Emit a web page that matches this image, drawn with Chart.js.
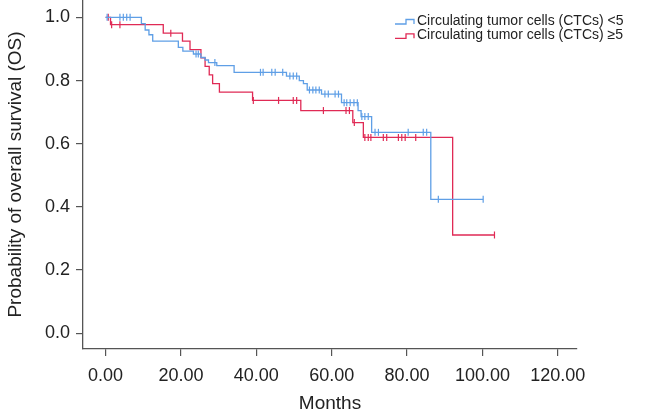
<!DOCTYPE html>
<html>
<head>
<meta charset="utf-8">
<script src="https://cdn.jsdelivr.net/npm/chart.js@4.4.1/dist/chart.umd.min.js"></script>
<style>
  html, body { margin: 0; padding: 0; background: #fff; }
  #wrap { width: 668px; height: 416px; }
</style>
</head>
<body>
<div id="wrap"><canvas id="km" width="668" height="416"></canvas></div>
<script>
// Kaplan-Meier steps: months and survival after each drop
const lowTimes = [0, 9.5, 10.5, 11.5, 12.5, 19.3, 20.5, 23.3, 25.3, 26.4, 27.3, 29.5, 34.1, 48.0, 51.4, 52.5, 53.5, 57.3, 62.6, 67.0, 67.8, 70.6, 86.3, 100.2];
const lowSurv  = [1.0, 0.98, 0.96, 0.945, 0.925, 0.905, 0.893, 0.884, 0.873, 0.865, 0.857, 0.847, 0.826, 0.814, 0.80, 0.79, 0.77, 0.757, 0.73, 0.705, 0.686, 0.636, 0.424, 0.424];
const lowCensor = [0.4, 3.8, 4.7, 5.6, 6.5, 24.0, 24.6, 29.0, 41.1, 41.8, 44.1, 45.0, 47.0, 48.9, 49.8, 50.7, 54.1, 55.0, 55.8, 56.7, 58.2, 59.1, 60.9, 61.8, 63.3, 64.0, 64.9, 65.9, 66.8, 68.0, 68.8, 69.7, 71.5, 72.4, 80.3, 84.3, 85.2, 88.3, 100.2];

const highTimes = [0, 1.3, 15.3, 20.4, 22.4, 25.3, 26.4, 27.5, 28.4, 30.2, 39.0, 51.8, 65.6, 68.4, 92.1, 103.2];
const highSurv  = [1.0, 0.977, 0.95, 0.925, 0.898, 0.872, 0.845, 0.818, 0.79, 0.763, 0.737, 0.705, 0.667, 0.62, 0.311, 0.311];
const highCensor = [0.7, 1.6, 3.8, 17.3, 39.2, 45.9, 49.8, 50.7, 57.8, 63.8, 64.7, 66.0, 68.8, 69.7, 70.4, 73.7, 74.6, 77.7, 78.6, 79.5, 82.3, 103.2];

const xTicks = [0, 20, 40, 60, 80, 100, 120];
const yTicks = [0, 0.2, 0.4, 0.6, 0.8, 1.0];
const seriesNames = ["Circulating tumor cells (CTCs) <5", "Circulating tumor cells (CTCs) \u22655"];

const blue = "#5f9fe6";
const red = "#e02a55";
const axisCol = "#555";

function steps(times, surv) {
  return times.map((t, i) => ({ x: t, y: surv[i] }));
}
// survival level at a censored time = value of the step curve there
function censorPts(times, surv, cens) {
  return cens.map(t => {
    let s = surv[0];
    for (let i = 0; i < times.length; i++) if (times[i] <= t) s = surv[i];
    return { x: t, y: s };
  });
}

const legendPlugin = {
  id: "kmLegend",
  afterDraw(chart) {
    const c = chart.ctx;
    const cols = [blue, red];
    c.save();
    c.font = "14px 'Liberation Sans', Arial, sans-serif";
    c.textBaseline = "middle";
    for (let i = 0; i < 2; i++) {
      const y = 21 + i * 14.3;
      c.strokeStyle = cols[i];
      c.lineWidth = 1.3;
      c.beginPath();
      c.moveTo(395, y + 3);
      c.lineTo(406, y + 3);
      c.lineTo(406, y - 1.5);
      c.lineTo(414, y - 1.5);
      c.lineTo(414, y + 3);
      c.stroke();
      c.fillStyle = "#222";
      c.fillText(seriesNames[i], 417, y);
    }
    c.restore();
  }
};

const font = { family: "'Liberation Sans', Arial, sans-serif", size: 18 };

new Chart(document.getElementById("km"), {
  type: "line",
  data: {
    datasets: [
      { data: steps(lowTimes, lowSurv), borderColor: blue, borderWidth: 1.3, stepped: true, pointRadius: 0, fill: false },
      { type: "scatter", data: censorPts(lowTimes, lowSurv, lowCensor), borderColor: blue, pointStyle: "line", rotation: 90, pointRadius: 3.5, pointBorderWidth: 1.2, showLine: false },
      { data: steps(highTimes, highSurv), borderColor: red, borderWidth: 1.3, stepped: true, pointRadius: 0, fill: false },
      { type: "scatter", data: censorPts(highTimes, highSurv, highCensor), borderColor: red, pointStyle: "line", rotation: 90, pointRadius: 3.5, pointBorderWidth: 1.2, showLine: false }
    ]
  },
  options: {
    responsive: false,
    animation: false,
    layout: { autoPadding: false, padding: { top: 0, right: 91, left: 0, bottom: 0 } },
    plugins: { legend: { display: false }, tooltip: { enabled: false } },
    scales: {
      x: {
        type: "linear",
        min: -6,
        max: 125.1,
        afterBuildTicks: s => { s.ticks = xTicks.map(v => ({ value: v })); },
        afterFit: s => { s.height = 67; s.paddingLeft = 0; },
        ticks: { color: "#222", font: font, padding: 9, maxRotation: 0, callback: v => v.toFixed(2) },
        grid: { drawOnChartArea: false, drawTicks: true, tickLength: 7, color: axisCol, lineWidth: 1.2 },
        border: { color: axisCol, width: 1.3 },
        title: { display: true, text: "Months", color: "#222", font: { family: font.family, size: 19 }, padding: { top: 0, bottom: 1 } }
      },
      y: {
        min: -0.05,
        max: 1.055,
        afterBuildTicks: s => { s.ticks = yTicks.map(v => ({ value: v })); },
        afterFit: s => { s.width = 83; s.paddingTop = 0; s.paddingBottom = 0; },
        ticks: { color: "#222", font: font, padding: 6, callback: v => v.toFixed(1) },
        grid: { drawOnChartArea: false, drawTicks: true, tickLength: 7, color: axisCol, lineWidth: 1.2 },
        border: { color: axisCol, width: 1.3 },
        title: { display: true, text: "Probability of overall survival (OS)", color: "#222", font: { family: font.family, size: 19 }, padding: { top: 4, bottom: 0 } }
      }
    }
  },
  plugins: [legendPlugin]
});
</script>
</body>
</html>
